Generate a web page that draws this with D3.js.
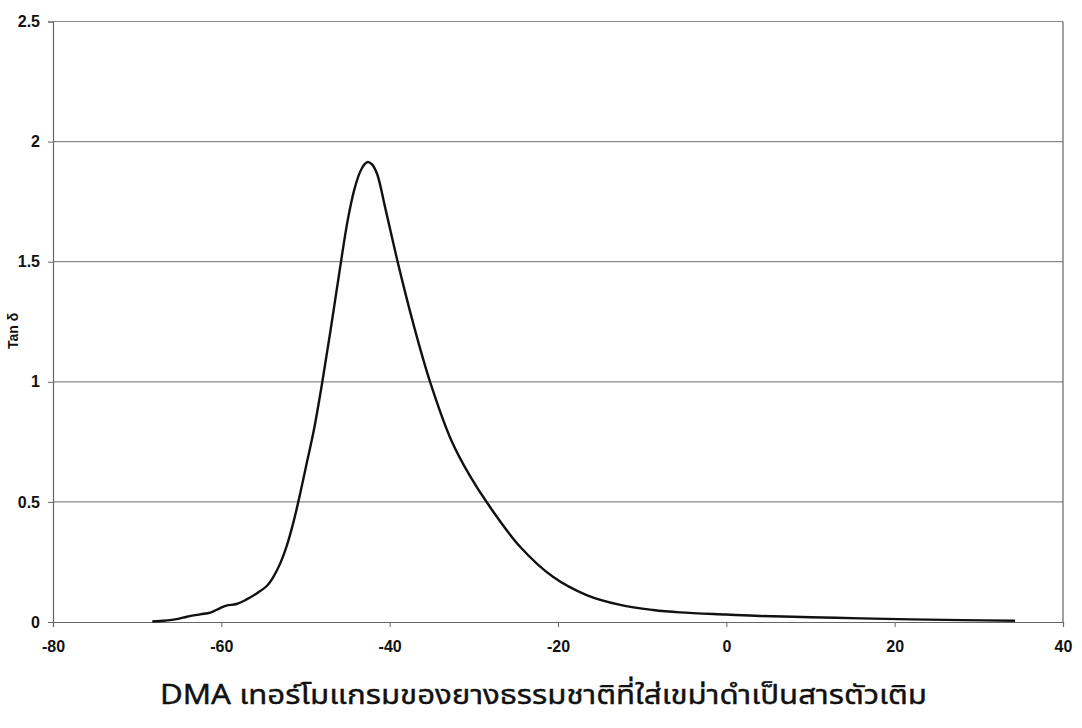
<!DOCTYPE html>
<html>
<head>
<meta charset="utf-8">
<script src="https://cdn.jsdelivr.net/npm/d3@7"></script>
<style>
  html, body { margin: 0; padding: 0; background: #ffffff; }
  svg { display: block; }
</style>
</head>
<body>
<svg id="chart" width="1082" height="728"></svg>
<script>
// DMA tan δ curve of natural rubber filled with carbon black
const temperature = [
  -68.2, -67.0, -66.1, -65.0, -64.1, -62.5, -61.3, -60.2, -59.4, -58.2,
  -57.0, -55.8, -54.6, -53.8, -53.0, -52.2, -51.4, -50.6, -49.8, -49.0,
  -48.0, -47.0, -46.0, -45.0, -44.2, -43.5, -43.0, -42.6, -42.1, -41.5, -40.5,
  -39.0, -37.2, -35.2, -32.6, -30.5, -28.3, -24.5, -20.6, -16.6, -12.6,
  -8.7, -5.5, 0, 4, 10, 16, 22, 28, 34.3
];
const tanDelta = [
  0.002, 0.005, 0.008, 0.014, 0.022, 0.032, 0.039, 0.057, 0.068, 0.075,
  0.094, 0.119, 0.150, 0.189, 0.244, 0.320, 0.420, 0.540, 0.670, 0.800,
  1.000, 1.220, 1.450, 1.670, 1.800, 1.875, 1.905, 1.915, 1.905, 1.866, 1.720,
  1.492, 1.243, 1.000, 0.750, 0.610, 0.490, 0.313, 0.188, 0.112, 0.071,
  0.050, 0.040, 0.031, 0.025, 0.020, 0.015, 0.011, 0.008, 0.005
];
const xTicks = [-80, -60, -40, -20, 0, 20, 40];
const yTicks = [0, 0.5, 1, 1.5, 2, 2.5];
const xTitle = "DMA เทอร์โมแกรมของยางธรรมชาติที่ใส่เขม่าดำเป็นสารตัวเติม";
const yTitle = "Tan δ";

const svg = d3.select("#chart");
const plot = { left: 53, right: 1063, top: 21.5, bottom: 622 };

const x = d3.scaleLinear().domain([-80, 40]).range([plot.left, plot.right]);
const y = d3.scaleLinear().domain([0, 2.5]).range([plot.bottom, plot.top]);

const gridColor = "#8a8a8a";
const labelFont = "'Liberation Sans', Arial, sans-serif";

// horizontal gridlines
svg.append("g")
  .selectAll("line")
  .data(yTicks.filter(d => d > 0))
  .join("line")
  .attr("x1", plot.left).attr("x2", plot.right)
  .attr("y1", d => y(d)).attr("y2", d => y(d))
  .attr("stroke", gridColor).attr("stroke-width", 1.2);

// right border
svg.append("line")
  .attr("x1", plot.right).attr("x2", plot.right)
  .attr("y1", plot.top).attr("y2", plot.bottom)
  .attr("stroke", "#666").attr("stroke-width", 1.2);

// x axis
const xAxis = svg.append("g")
  .attr("transform", `translate(0,${plot.bottom})`)
  .call(d3.axisBottom(x).tickValues(xTicks).tickSize(5).tickPadding(14).tickFormat(d => String(d)));
xAxis.select(".domain").attr("stroke", "#666").attr("stroke-width", 1.2);
xAxis.selectAll(".tick line").attr("stroke", "#666");
xAxis.selectAll("text")
  .attr("font-family", labelFont).attr("font-size", 16).attr("font-weight", "bold").attr("fill", "#111");

// y axis
const yAxis = svg.append("g")
  .attr("transform", `translate(${plot.left},0)`)
  .call(d3.axisLeft(y).tickValues(yTicks).tickSize(5).tickPadding(8).tickFormat(d => String(d)));
yAxis.select(".domain").attr("stroke", "#666").attr("stroke-width", 1.2);
yAxis.selectAll(".tick line").attr("stroke", "#666");
yAxis.selectAll("text")
  .attr("font-family", labelFont).attr("font-size", 16).attr("font-weight", "bold").attr("fill", "#111");

// y axis title
svg.append("text")
  .attr("transform", "translate(18,331) rotate(-90)")
  .attr("text-anchor", "middle")
  .attr("font-family", labelFont).attr("font-size", 14).attr("font-weight", "bold")
  .attr("fill", "#111")
  .text(yTitle);

// tan δ curve
const points = temperature.map((t, i) => [t, tanDelta[i]]);
svg.append("path")
  .datum(points)
  .attr("fill", "none")
  .attr("stroke", "#111")
  .attr("stroke-width", 2.4)
  .attr("stroke-linejoin", "round")
  .attr("d", d3.line().x(d => x(d[0])).y(d => y(d[1])).curve(d3.curveCatmullRom.alpha(0.5)));

// chart caption
svg.append("text")
  .attr("x", 160).attr("y", 704)
  .attr("textLength", 767).attr("lengthAdjust", "spacingAndGlyphs")
  .attr("font-family", "'Noto Sans Thai', 'Noto Sans', 'Liberation Sans', sans-serif")
  .attr("font-size", 27)
  .attr("fill", "#111")
  .attr("stroke", "#111").attr("stroke-width", 0.4)
  .text(xTitle);
</script>
</body>
</html>
